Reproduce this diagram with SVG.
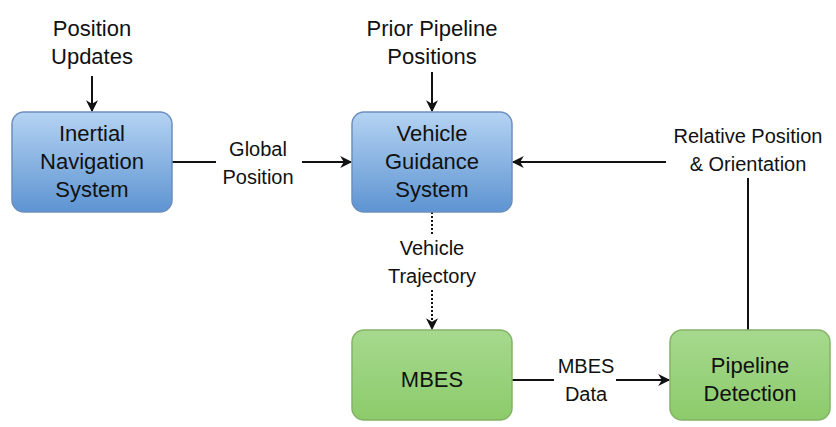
<svg xmlns="http://www.w3.org/2000/svg" width="836" height="427" viewBox="0 0 836 427">
<defs>
<linearGradient id="blue" x1="0" y1="0" x2="0" y2="1"><stop offset="0" stop-color="#b5d3f2"/><stop offset="1" stop-color="#5d94d2"/></linearGradient>
<linearGradient id="green" x1="0" y1="0" x2="0" y2="1"><stop offset="0" stop-color="#a6d98e"/><stop offset="1" stop-color="#8ccb6b"/></linearGradient>
<marker id="ah" viewBox="0 0 10 10" refX="9" refY="5" markerWidth="13" markerHeight="12" markerUnits="userSpaceOnUse" orient="auto"><path d="M0,0 L10,5 L0,10 L3,5 z" fill="#111"/></marker>
<style>
text{font-family:"Liberation Sans",Arial,sans-serif;font-size:20px;fill:#111;text-anchor:middle}
.t{font-size:22px}
.b{fill:url(#blue);stroke:#6c8ebf;stroke-width:1.5}
.g{fill:url(#green);stroke:#82b366;stroke-width:1.5}
.c{stroke:#111;stroke-width:2;fill:none}
</style>
</defs>
<rect width="836" height="427" fill="#fff"/>
<g id="connectors">
<line class="c" x1="92" y1="76" x2="92" y2="111" marker-end="url(#ah)"/>
<line class="c" x1="432" y1="72" x2="432" y2="111" marker-end="url(#ah)"/>
<line class="c" x1="172" y1="162" x2="216" y2="162"/>
<line class="c" x1="302" y1="162" x2="351" y2="162" marker-end="url(#ah)"/>
<line class="c" x1="666" y1="162" x2="513" y2="162" marker-end="url(#ah)"/>
<line class="c" x1="748" y1="178" x2="748" y2="330"/>
<line class="c" x1="432" y1="212" x2="432" y2="234" stroke-dasharray="2,2"/>
<line class="c" x1="432" y1="290" x2="432" y2="329" stroke-dasharray="2,2" marker-end="url(#ah)"/>
<line class="c" x1="512" y1="380" x2="554" y2="380"/>
<line class="c" x1="616" y1="380" x2="669" y2="380" marker-end="url(#ah)"/>
<text x="258" y="156">Global</text>
<text x="258" y="184">Position</text>
<text x="748" y="143">Relative Position</text>
<text x="748" y="171">&amp; Orientation</text>
<text x="432" y="255">Vehicle</text>
<text x="432" y="283">Trajectory</text>
<text x="586" y="373">MBES</text>
<text x="586" y="401">Data</text>
</g>
<g id="pos-updates"><text class="t" x="92" y="36">Position</text><text class="t" x="92" y="64">Updates</text></g>
<g id="prior"><text class="t" x="432" y="36">Prior Pipeline</text><text class="t" x="432" y="64">Positions</text></g>
<g id="ins"><rect class="b" x="12" y="112" width="160" height="100" rx="12"/><text class="t" x="92" y="141">Inertial</text><text class="t" x="92" y="169">Navigation</text><text class="t" x="92" y="197">System</text></g>
<g id="vgs"><rect class="b" x="352" y="112" width="160" height="100" rx="12"/><text class="t" x="432" y="141">Vehicle</text><text class="t" x="432" y="169">Guidance</text><text class="t" x="432" y="197">System</text></g>
<g id="mbes"><rect class="g" x="352" y="330" width="160" height="90" rx="12"/><text class="t" x="432" y="387">MBES</text></g>
<g id="pd"><rect class="g" x="670" y="330" width="160" height="90" rx="12"/><text class="t" x="750" y="373">Pipeline</text><text class="t" x="750" y="401">Detection</text></g>
</svg>
